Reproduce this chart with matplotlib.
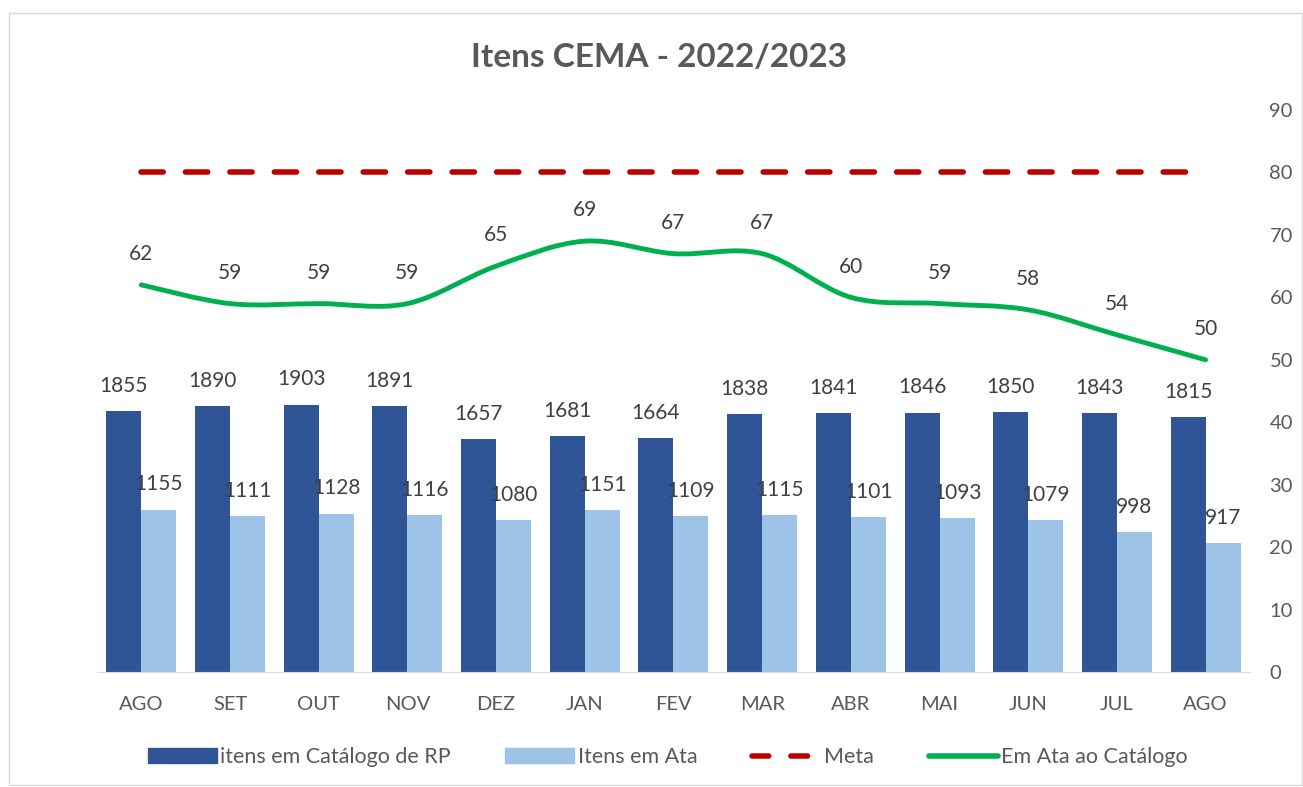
import numpy as np
import matplotlib
matplotlib.use("Agg")
import matplotlib.pyplot as plt
from matplotlib.path import Path
from matplotlib.patches import PathPatch, Rectangle
from matplotlib.lines import Line2D

plt.rcParams['font.family'] = ['Lato', 'DejaVu Sans']

# Data
meses = ['AGO', 'SET', 'OUT', 'NOV', 'DEZ', 'JAN', 'FEV', 'MAR', 'ABR', 'MAI', 'JUN', 'JUL', 'AGO']
catalogo = [1855, 1890, 1903, 1891, 1657, 1681, 1664, 1838, 1841, 1846, 1850, 1843, 1815]
em_ata = [1155, 1111, 1128, 1116, 1080, 1151, 1109, 1115, 1101, 1093, 1079, 998, 917]
percentual = [62, 59, 59, 59, 65, 69, 67, 67, 60, 59, 58, 54, 50]
meta = [80] * 13

c_dark = '#2F5597'
c_light = '#9DC3E6'
c_red = '#C00000'
c_green = '#00B050'
c_text = '#595959'

fig = plt.figure(figsize=(13.03, 7.87), dpi=100)
fig.patches.append(Rectangle((0.007, 0.002), 0.992, 0.982, transform=fig.transFigure,
                             fill=False, edgecolor='#D9D9D9', linewidth=1))
ax = fig.add_axes([0.0744, 0.1461, 0.8849, 0.7141])
ax2 = ax.twinx()

x = np.arange(len(meses))
w = 0.395
ax.bar(x - w / 2, catalogo, w, color=c_dark, zorder=2)
ax.bar(x + w / 2, em_ata, w, color=c_light, zorder=2)
ax.set_ylim(0, 4000)
ax.set_xlim(-0.5, len(meses) - 0.5)
ax.set_yticks([])
for s in ['top', 'left', 'right']:
    ax.spines[s].set_visible(False)
ax.spines['bottom'].set_color('#D9D9D9')
ax.set_xticks(x)
ax.set_xticklabels(meses, fontsize=14.5, color=c_text)
ax.tick_params(axis='x', length=0, pad=17)

for xi, v in zip(x, catalogo):
    ax.annotate(str(v), (xi - w / 2, v), xytext=(0, 11), textcoords='offset points',
                ha='center', va='bottom', fontsize=15, color='#404040')
for xi, v in zip(x, em_ata):
    ax.annotate(str(v), (xi + w / 2, v), xytext=(0, 11), textcoords='offset points',
                ha='center', va='bottom', fontsize=15, color='#404040')

# secondary axis: percentages
ax2.set_ylim(0, 90)
ax2.set_yticks(range(0, 91, 10))
ax2.tick_params(axis='y', length=0, labelsize=14.5, labelcolor=c_text, pad=14)
for s in ['top', 'left', 'right', 'bottom']:
    ax2.spines[s].set_visible(False)

ax2.plot(x, meta, color=c_red, linewidth=4, dashes=(4, 4), dash_capstyle='round', zorder=3)

# smoothed line (Catmull-Rom -> cubic Bezier)
pts = np.column_stack([x, percentual]).astype(float)
verts = [pts[0]]
codes = [Path.MOVETO]
t = 1 / 6
for i in range(len(pts) - 1):
    p0 = pts[max(i - 1, 0)]
    p1 = pts[i]
    p2 = pts[i + 1]
    p3 = pts[min(i + 2, len(pts) - 1)]
    verts += [p1 + (p2 - p0) * t, p2 - (p3 - p1) * t, p2]
    codes += [Path.CURVE4] * 3
ax2.add_patch(PathPatch(Path(verts, codes), facecolor='none', edgecolor=c_green,
                        linewidth=3.5, capstyle='round', zorder=4))
for xi, v in zip(x, percentual):
    ax2.annotate(str(v), (xi, v), xytext=(0, 15), textcoords='offset points',
                 ha='center', va='bottom', fontsize=15, color='#404040')

fig.text(0.506, 0.927, 'Itens CEMA - 2022/2023', ha='center', va='center',
         fontsize=24, fontweight='bold', color=c_text)

handles = [Rectangle((0, 0), 1, 1, color=c_dark),
           Rectangle((0, 0), 1, 1, color=c_light),
           Line2D([], [], color=c_red, linewidth=4, dashes=(3, 4), dash_capstyle='round'),
           Line2D([], [], color=c_green, linewidth=4, solid_capstyle='round')]
labels = ['itens em Catálogo de RP', 'Itens em Ata', 'Meta', 'Em Ata ao Catálogo']
fig.legend(handles, labels, loc='center', bbox_to_anchor=(0.5125, 0.038), ncol=4,
           frameon=False, fontsize=15.5, labelcolor=c_text, handlelength=3.2,
           handleheight=0.65, handletextpad=0.15, columnspacing=2.55)

fig.savefig('out.png', dpi=100)
